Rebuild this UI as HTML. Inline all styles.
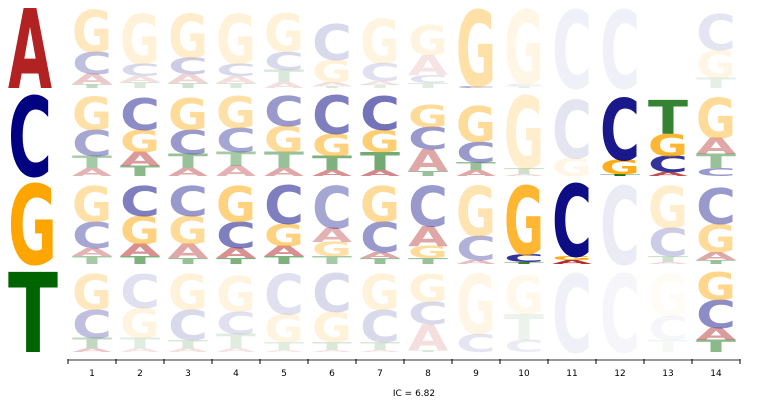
<!DOCTYPE html>
<html><head><meta charset="utf-8"><style>
body{margin:0;background:#fff;width:768px;height:400px;overflow:hidden}
svg{display:block}
</style></head><body>
<svg id="chart" width="768" height="400" viewBox="0 0 768 400" xmlns="http://www.w3.org/2000/svg"></svg>
<script>
const rowLetters = ["A","C","G","T"];
const positions = ["1","2","3","4","5","6","7","8","9","10","11","12","13","14"];
const icLabel = "IC = 6.82";
// stacks bottom->top: [letter, height in px out of 80]
const rowA = [
 [["T",4],["A",10],["C",22],["G",42]],
 [["T",6],["A",6],["C",12],["G",50]],
 [["T",5],["A",9],["C",16],["G",44]],
 [["T",5],["A",7],["C",12],["G",50]],
 [["A",6],["T",12],["C",18],["G",38]],
 [["T",2],["A",4],["G",22],["C",36]],
 [["T",3],["A",4],["C",18],["G",44]],
 [["T",5],["C",8],["A",20],["G",30]],
 [["C",2],["G",76]],
 [["T",2],["C",2],["G",74]],
 [["C",78]],
 [["C",78]],
 [],
 [["T",10],["G",28],["C",36]]
];
const rowC = [
 [["A",8],["T",12],["C",26],["G",33]],
 [["T",10],["A",14],["G",22],["C",32]],
 [["A",8],["T",14],["C",24],["G",32]],
 [["A",10],["T",14],["C",24],["G",32]],
 [["A",8],["T",16],["G",26],["C",30]],
 [["A",6],["T",14],["G",22],["C",38]],
 [["A",6],["T",18],["G",22],["C",34]],
 [["T",5],["A",22],["C",22],["G",22]],
 [["A",6],["T",8],["C",20],["G",36]],
 [["A",2],["T",6],["G",72]],
 [["G",18],["C",58]],
 [["T",2],["G",14],["C",62]],
 [["A",4],["C",16],["G",22],["T",34]],
 [["C",8],["T",14],["A",16],["G",40]]
];
const rowG = [
 [["T",8],["A",8],["C",26],["G",36]],
 [["T",8],["A",12],["G",28],["C",30]],
 [["T",6],["A",14],["G",28],["C",30]],
 [["T",6],["A",10],["C",26],["G",36]],
 [["T",8],["A",10],["G",22],["C",38]],
 [["T",8],["G",14],["A",14],["C",42]],
 [["T",6],["A",6],["C",30],["G",36]],
 [["T",6],["G",12],["A",20],["C",40]],
 [["A",4],["C",24],["G",50]],
 [["T",2],["C",8],["G",68]],
 [["A",4],["G",4],["C",72]],
 [["C",78]],
 [["A",2],["T",6],["C",28],["G",42]],
 [["T",4],["A",8],["G",28],["C",36]]
];
const rowT = [
 [["A",4],["T",10],["C",28],["G",36]],
 [["A",4],["T",10],["G",30],["C",34]],
 [["A",4],["T",8],["C",30],["G",36]],
 [["A",4],["T",14],["C",22],["G",36]],
 [["A",2],["T",8],["G",28],["C",40]],
 [["A",2],["T",8],["G",30],["C",38]],
 [["A",2],["T",8],["C",32],["G",36]],
 [["T",2],["A",26],["C",22],["G",28]],
 [["C",18],["G",60]],
 [["C",12],["T",26],["G",38]],
 [["C",78]],
 [["C",78]],
 [["T",12],["C",24],["G",42]],
 [["T",12],["A",12],["C",28],["G",28]]
];
const alphaA = [0.25,0.15,0.2,0.15,0.15,0.15,0.12,0.12,0.35,0.1,0.06,0.06,0.04,0.1];
const alphaC = [0.35,0.45,0.4,0.35,0.4,0.5,0.55,0.4,0.4,0.2,0.1,0.9,0.8,0.4];
const alphaG = [0.35,0.5,0.4,0.5,0.5,0.35,0.4,0.4,0.3,0.8,0.95,0.08,0.2,0.4];
const alphaT = [0.25,0.12,0.15,0.12,0.12,0.15,0.15,0.15,0.1,0.08,0.06,0.04,0.04,0.45];

const rows=[rowA,rowC,rowG,rowT], alphas=[alphaA,alphaC,alphaG,alphaT];
const colors={A:"#b22222",C:"#000080",G:"#ffa500",T:"#006400"};
const NS="http://www.w3.org/2000/svg";
const svg=document.getElementById("chart");
const CAP=72.9; // DejaVu Sans Bold cap height at 100px
const colX=i=>72+48*i;
const rowBase=r=>88+88*r;
function glyph(parent,letter,x,base,w,h,op){
  const t=document.createElementNS(NS,"text");
  t.setAttribute("x",0);t.setAttribute("y",0);
  t.setAttribute("font-family","DejaVu Sans, sans-serif");
  t.setAttribute("font-weight","bold");
  t.setAttribute("font-size","100");
  t.setAttribute("textLength",w);
  t.setAttribute("lengthAdjust","spacingAndGlyphs");
  t.setAttribute("fill",colors[letter]);
  if(op<1)t.setAttribute("fill-opacity",op);
  t.setAttribute("transform","translate("+x+","+base+") scale(1,"+(h/CAP)+")");
  t.textContent=letter;
  
  
  parent.appendChild(t);
}
// row labels
const bigW=[44,44,49,50];
rowLetters.forEach((L,r)=>{
  const g=document.createElementNS(NS,"g");
  
  
  svg.appendChild(g);
  glyph(g,L,8,rowBase(r),bigW[r],80,1);
});
// cells
rows.forEach((row,r)=>{
  row.forEach((stack,c)=>{
    const g=document.createElementNS(NS,"g");
    
    
    svg.appendChild(g);
    let base=rowBase(r);
    stack.forEach(([L,h])=>{
      glyph(g,L,colX(c),base,40,h,alphas[r][c]);
      base-=h;
    });
  });
});
// axis
const ax=document.createElementNS(NS,"g");


svg.appendChild(ax);
const line=document.createElementNS(NS,"line");
line.setAttribute("x1",68);line.setAttribute("x2",740);line.setAttribute("y1",360);line.setAttribute("y2",360);
line.setAttribute("stroke","#777");line.setAttribute("stroke-width","1.5");


ax.appendChild(line);
for(let k=0;k<=positions.length;k++){
  const tk=document.createElementNS(NS,"line");
  const x=68+48*k;
  tk.setAttribute("x1",x);tk.setAttribute("x2",x);tk.setAttribute("y1",359);tk.setAttribute("y2",364);
  tk.setAttribute("stroke","#000");tk.setAttribute("stroke-width","1");
  
  
  ax.appendChild(tk);
}
positions.forEach((p,i)=>{
  const t=document.createElementNS(NS,"text");
  t.setAttribute("x",colX(i)+20);t.setAttribute("y",376);
  t.setAttribute("text-anchor","middle");
  t.setAttribute("font-family","DejaVu Sans, sans-serif");
  t.setAttribute("font-size","9");t.setAttribute("fill","#000");
  t.textContent=p;
  
  
  ax.appendChild(t);
});
const ic=document.createElementNS(NS,"text");
ic.setAttribute("x",414);ic.setAttribute("y",396);
ic.setAttribute("text-anchor","middle");
ic.setAttribute("font-family","DejaVu Sans, sans-serif");
ic.setAttribute("font-size","9");
ic.textContent=icLabel;


svg.appendChild(ic);
</script>
</body></html>
